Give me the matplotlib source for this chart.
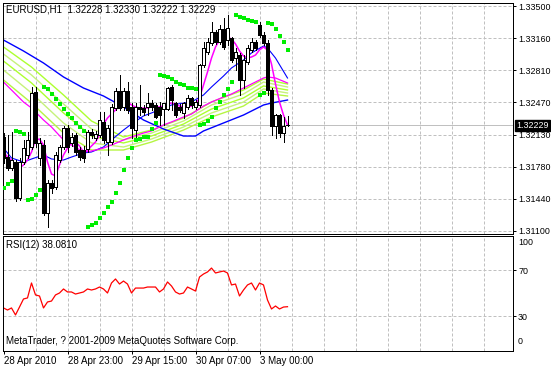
import matplotlib
matplotlib.use('Agg')
import matplotlib.pyplot as plt
import numpy as np

plt.rcParams['font.family'] = ['Liberation Sans', 'DejaVu Sans']

# ---------------- data ----------------
title_text = "EURUSD,H1  1.32228 1.32330 1.32222 1.32229"
rsi_title = "RSI(12) 38.0810"
copyright_text = "MetaTrader, ? 2001-2009 MetaQuotes Software Corp."
last_price = 1.32229
last_label = "1.32229"

opens = [1.32103,1.31889,1.31772,1.31836,1.31452,1.31836,1.31911,1.31996,1.32583,1.31879,
         1.32017,1.31292,1.31612,1.31569,1.31857,1.31996,1.32199,1.32039,1.32124,1.31964,
         1.31964,1.31975,1.32156,1.32092,1.32124,1.32263,1.32049,1.32049,1.32412,1.32593,
         1.32423,1.32593,1.32423,1.32177,1.32423,1.32412,1.32423,1.32465,1.32444,1.32423,
         1.32401,1.32401,1.32636,1.32465,1.32423,1.32359,1.32423,1.32519,1.32423,1.32444,
         1.32871,1.33009,1.33105,1.33223,1.33116,1.33255,1.33137,1.33159,1.32945,1.32977,
         1.32711,1.32903,1.33031,1.33116,1.33297,1.33191,1.33105,1.32604,1.32220,1.32337,
         1.32145,1.32228]
highs = [1.32145,1.32124,1.32156,1.31857,1.31879,1.32071,1.32156,1.32636,1.32636,1.32092,
         1.32071,1.31644,1.31644,1.31943,1.32017,1.32220,1.32231,1.32145,1.32145,1.31996,
         1.32007,1.32177,1.32188,1.32167,1.32369,1.32369,1.32231,1.32455,1.32625,1.32764,
         1.32625,1.32689,1.32465,1.32465,1.32657,1.32444,1.32572,1.32497,1.32465,1.32476,
         1.32465,1.32636,1.32657,1.32476,1.32455,1.32476,1.32551,1.32529,1.32497,1.32881,
         1.33116,1.33159,1.33329,1.33244,1.33297,1.33372,1.33404,1.33169,1.33052,1.32999,
         1.32977,1.33084,1.33159,1.33137,1.33329,1.33223,1.33137,1.32625,1.32348,1.32348,
         1.32316,1.32330]
lows = [1.31825,1.31751,1.31751,1.31420,1.31431,1.31815,1.31879,1.31975,1.31996,1.31804,
        1.31271,1.31143,1.31505,1.31548,1.31836,1.31975,1.31943,1.32007,1.31911,1.31857,
        1.31836,1.31943,1.32092,1.32071,1.32103,1.32039,1.31911,1.32028,1.32391,1.32391,
        1.32391,1.32359,1.32092,1.32103,1.32337,1.32337,1.32337,1.32391,1.32305,1.32231,
        1.32231,1.32391,1.32391,1.32316,1.32369,1.32305,1.32401,1.32412,1.32401,1.32423,
        1.32849,1.32988,1.33084,1.33095,1.33095,1.33041,1.33084,1.32903,1.32817,1.32551,
        1.32625,1.32881,1.33009,1.33031,1.33169,1.33084,1.32551,1.32124,1.32092,1.32103,
        1.32049,1.32222]
closes = [1.31879,1.31772,1.31857,1.31452,1.31836,1.31985,1.32071,1.32572,1.32039,1.32039,
          1.31292,1.31612,1.31559,1.31911,1.31996,1.32199,1.31996,1.32103,1.31943,1.31889,
          1.31879,1.32156,1.32124,1.32135,1.32284,1.32071,1.32199,1.32423,1.32593,1.32412,
          1.32593,1.32391,1.32199,1.32423,1.32401,1.32369,1.32465,1.32423,1.32316,1.32337,
          1.32465,1.32625,1.32497,1.32337,1.32391,1.32465,1.32519,1.32444,1.32476,1.32871,
          1.33052,1.33116,1.33223,1.33116,1.33255,1.33063,1.33265,1.32924,1.33009,1.32711,
          1.32924,1.33052,1.33116,1.33052,1.33191,1.33105,1.32604,1.32220,1.32337,1.32145,
          1.32220,1.32229]

sar = [1.31559,1.31601,1.31633,1.32167,1.32156,1.32135,1.31431,1.31441,1.31484,1.31537,
       1.32636,1.32615,1.32561,1.32508,1.32455,1.32401,1.32348,1.32305,1.32252,1.32209,
       1.32167,1.31143,1.31164,1.31185,1.31239,1.31292,1.31356,1.31409,1.31505,1.31612,
       1.31751,1.31879,1.31985,1.32071,1.32081,1.32103,1.32103,1.32188,1.32252,1.32764,
       1.32753,1.32743,1.32721,1.32689,1.32668,1.32657,1.32625,1.32625,1.32615,1.32231,
       1.32241,1.32273,1.32316,1.32412,1.32476,1.32551,1.32615,1.32689,1.33404,1.33383,
       1.33372,1.33351,1.33340,1.33329,1.32551,1.32572,1.33319,1.33308,1.33255,1.33180,
       1.33116,1.33031]

slow_blue_idx = [0,5,10,15,20,25,30,35,40,45,48,50,55,60,65,67,71]
slow_blue = [1.33137,1.33020,1.32892,1.32743,1.32625,1.32540,1.32423,1.32284,1.32188,
             1.32113,1.32113,1.32167,1.32252,1.32337,1.32444,1.32465,1.32497]

ma_idx = [0,2,5,7,10,12,15,17,20,22,25,27,30,32,35,37,40,42,45,47,50,52,55,57,60,62,65,66,68,71]
fast_blue = [1.31985,1.31879,1.31836,1.31868,1.31911,1.31868,1.31857,1.31889,1.31932,1.31943,
             1.31996,1.32071,1.32177,1.32241,1.32327,1.32359,1.32412,1.32444,1.32465,1.32476,
             1.32551,1.32636,1.32753,1.32839,1.32924,1.32999,1.33073,1.33052,1.32945,1.32732]
slow_magenta = [1.32689,1.32604,1.32476,1.32412,1.32284,1.32209,1.32071,1.32017,1.31943,1.31953,
                1.31985,1.32017,1.32071,1.32103,1.32145,1.32167,1.32231,1.32263,1.32316,1.32348,
                1.32433,1.32476,1.32529,1.32561,1.32625,1.32668,1.32732,1.32743,1.32732,1.32679]

fast_magenta = [1.31943,1.31889,1.31857,1.31793,1.31772,1.31804,1.31857,1.31943,1.32071,1.32081,
                1.32017,1.31836,1.31708,1.31687,1.31804,1.31911,1.31985,1.32039,1.32049,1.32007,
                1.31943,1.31964,1.32007,1.32049,1.32124,1.32241,1.32305,1.32348,1.32391,1.32433,
                1.32465,1.32476,1.32444,1.32423,1.32412,1.32412,1.32412,1.32423,1.32423,1.32423,
                1.32433,1.32455,1.32465,1.32455,1.32433,1.32423,1.32423,1.32433,1.32455,1.32519,
                1.32657,1.32796,1.32945,1.33063,1.33137,1.33159,1.33169,1.33148,1.33095,1.33020,
                1.32967,1.32945,1.32956,1.32977,1.33031,1.33063,1.33031,1.32881,1.32668,1.32476,
                1.32337,1.32231]

ribbon_idx = [0,7,15,22,30,37,45,52,60,65,71]
ribbon1 = [1.33063,1.32849,1.32551,1.32273,1.32103,1.32177,1.32305,1.32476,1.32604,1.32721,1.32668]
ribbon2 = [1.32988,1.32764,1.32455,1.32188,1.32071,1.32145,1.32273,1.32444,1.32561,1.32689,1.32636]
ribbon3 = [1.32913,1.32679,1.32359,1.32113,1.32039,1.32113,1.32241,1.32401,1.32519,1.32647,1.32604]
ribbon4 = [1.32817,1.32572,1.32252,1.32039,1.31996,1.32081,1.32209,1.32359,1.32476,1.32615,1.32572]
ribbon5 = [1.32711,1.32465,1.32145,1.31964,1.31964,1.32049,1.32177,1.32316,1.32433,1.32572,1.32540]

rsi = [37.0,35.2,37.0,30.9,37.8,44.8,45.7,58.7,48.3,47.4,
       37.0,42.2,43.0,48.3,50.0,53.5,50.9,50.9,49.1,50.0,
       50.9,53.5,52.6,53.5,55.2,53.5,50.0,58.7,62.2,57.8,
       60.4,57.8,50.0,54.3,54.3,54.3,55.2,55.2,55.2,50.9,
       53.5,59.6,56.1,50.9,49.1,50.0,55.2,53.5,51.7,63.9,
       66.5,68.3,71.7,67.4,68.3,69.1,67.4,57.0,57.8,47.4,
       52.6,57.0,58.7,52.6,58.7,57.0,43.9,36.1,38.7,36.1,
       37.8,38.08]

price_tick_labels = ["1.33500","1.33160","1.32810","1.32470","1.32130","1.31780","1.31440","1.31100"]
price_top = 1.33500
price_bottom = 1.31100
time_tick_idx = [0,16,32,48,64]
time_tick_labels = ["28 Apr 2010","28 Apr 23:00","29 Apr 15:00","30 Apr 07:00","3 May 00:00"]
rsi_levels = [70,30]

# ---------------- layout ----------------
W, H = 551, 367
fig = plt.figure(figsize=(W/100, H/100), dpi=100)
fig.patch.set_facecolor('white')

def rect(l, t, r, b):
    return [l/W, 1-b/H, (r-l)/W, (b-t)/H]

ax = fig.add_axes(rect(2.5, 2.5, 513, 233.5))
rx = fig.add_axes(rect(2.5, 235.5, 513, 350.5))

px = 0.72  # one pixel in points
grid_col = '#c0c0c0'
dash = (0, (3, 2))
fs = 6.4
n = len(opens)
xs = np.arange(n)
xlim = (-0.25, 127.375)

ppp = (price_top - price_bottom) / 225.0
ymax = price_top + (6 - 2.5) * ppp
ymin = price_bottom - (233.5 - 231) * ppp
ax.set_xlim(*xlim)
ax.set_ylim(ymin, ymax)

tick_vals = np.linspace(price_top, price_bottom, len(price_tick_labels))
for v in tick_vals:
    ax.axhline(v, color=grid_col, lw=px, ls=dash, zorder=0.5)
for k in range(1, 16):
    ax.axvline(8*k, color=grid_col, lw=px, ls=dash, zorder=0.5)
    rx.axvline(8*k, color=grid_col, lw=px, ls=dash, zorder=0.5)

ax.axhline(last_price, color='#c0c0c0', lw=px, zorder=0.6)

# moving averages
rib_cols = ['#adff2f', '#c6f27a', '#adff2f', '#c6f27a', '#b5f542']
for rv, c in zip([ribbon1, ribbon2, ribbon3, ribbon4, ribbon5], rib_cols):
    ax.plot(ribbon_idx, rv, color=c, lw=1.0, zorder=1)
ax.plot(slow_blue_idx, slow_blue, color='#0000ff', lw=1.0, zorder=1.2)
ax.plot(ma_idx, fast_blue, color='#0000ff', lw=0.8, zorder=1.2)
ax.plot(ma_idx, slow_magenta, color='#ff00ff', lw=0.9, zorder=1.2)
ax.plot(xs, fast_magenta, color='#ff00ff', lw=1.1, zorder=1.3)

# candles
o = np.array(opens); c = np.array(closes); hi = np.array(highs); lo = np.array(lows)
ax.vlines(xs, lo, hi, color='black', lw=px, zorder=2, antialiased=False)
bull = c >= o
bot = np.minimum(o, c)
hgt = np.maximum(np.abs(c - o), 0.00002)
ax.bar(xs[bull], hgt[bull], bottom=bot[bull], width=0.55, color='white',
       edgecolor='black', linewidth=px, zorder=3, antialiased=False)
ax.bar(xs[~bull], hgt[~bull], bottom=bot[~bull], width=0.55, color='black',
       edgecolor='black', linewidth=px, zorder=3, antialiased=False)

# parabolic SAR
ax.plot(xs, sar, 's', color='#00ee00', markersize=3.1, markeredgewidth=0, zorder=4)

# price axis
ax.yaxis.tick_right()
ax.set_yticks(tick_vals)
ax.set_yticklabels(price_tick_labels)
ax.tick_params(axis='y', direction='out', length=3*px, width=px, pad=1.5, labelsize=fs)
ax.set_xticks([])
for s in ax.spines.values():
    s.set_linewidth(px)

ax.text(1 + 3.5/510.5, last_price, last_label, transform=ax.get_yaxis_transform(),
        ha='left', va='center', fontsize=fs, color='white', clip_on=False, zorder=10,
        bbox=dict(boxstyle='square,pad=0.12', fc='black', ec='black'))

fig.text(6/W, 1 - 10/H, title_text, ha='left', va='center', fontsize=7)

# RSI panel
rx.set_xlim(*xlim)
rx.set_ylim(0, 100)
for lv in rsi_levels:
    rx.axhline(lv, color=grid_col, lw=px, ls=dash, zorder=0.5)
rx.plot(xs, rsi, color='#ff0000', lw=0.9, zorder=2)
rx.yaxis.tick_right()
rx.set_yticks(rsi_levels)
rx.set_yticklabels([str(v) for v in rsi_levels])
rx.tick_params(axis='y', direction='out', length=3*px, width=px, pad=1.5, labelsize=fs)
ytr = rx.get_yaxis_transform()
rx.text(1 + 5/510.5, 93.5, "100", transform=ytr, ha='left', va='center', fontsize=fs, clip_on=False)
rx.text(1 + 5/510.5, 7.4, "0", transform=ytr, ha='left', va='center', fontsize=fs, clip_on=False)
rx.set_xticks(time_tick_idx)
rx.set_xticklabels(time_tick_labels)
rx.tick_params(axis='x', direction='out', length=3*px, width=px, pad=1.5, labelsize=7)
for lbl in rx.get_xticklabels():
    lbl.set_ha('left')
for s in rx.spines.values():
    s.set_linewidth(px)

fig.text(6/W, 1 - 245.5/H, rsi_title, ha='left', va='center', fontsize=7)
fig.text(6/W, 1 - 341.5/H, copyright_text, ha='left', va='center', fontsize=7)

fig.savefig('out.png', dpi=100, facecolor='white')
